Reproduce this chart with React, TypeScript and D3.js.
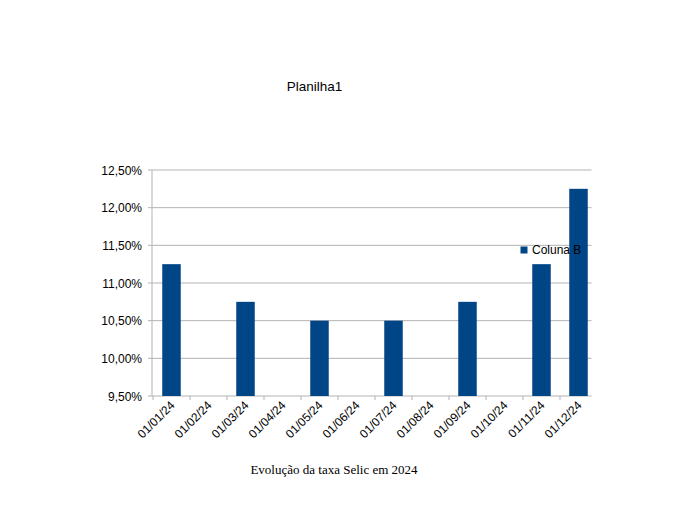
import React from "react";
import * as d3 from "d3";

const categories = ["01/01/24","01/02/24","01/03/24","01/04/24","01/05/24","01/06/24","01/07/24","01/08/24","01/09/24","01/10/24","01/11/24","01/12/24"];
const values: (number | null)[] = [11.25, null, 10.75, null, 10.5, null, 10.5, null, 10.75, null, 11.25, 12.25];
const yTicks = [9.5, 10, 10.5, 11, 11.5, 12, 12.5];
const seriesName = "Coluna B";
const title = "Planilha1";
const caption = "Evolução da taxa Selic em 2024";

export default function App() {
  const W = 694, H = 532;
  const left = 152, right = 591.5, top = 170, bottom = 396;
  const xb = d3.scaleBand<string>().domain(categories).range([153, 597]);
  const x = d3.scaleBand<string>().domain(categories).range([153, 597]).paddingInner(0.5).paddingOuter(0.25);
  const y = d3.scaleLinear().domain([9.5, 12.5]).range([bottom, top]);
  const fmt = (v: number) => v.toFixed(2).replace(".", ",") + "%";
  const sans = "'Liberation Sans', Arial, sans-serif";
  return (
    <svg width={W} height={H} style={{ position: "absolute", left: 0, top: 0, background: "#fff" }}>
      <rect width={W} height={H} fill="#fff" />
      <text x={314.5} y={91} textAnchor="middle" fontFamily={sans} fontSize={13.5} fill="#000">{title}</text>
      {yTicks.map((t) => (
        <g key={t}>
          <line x1={left} x2={right} y1={y(t)} y2={y(t)} stroke="#b3b3b3" strokeWidth={1} />
          <line x1={left - 4} x2={left} y1={y(t)} y2={y(t)} stroke="#b3b3b3" strokeWidth={1} />
          <text x={142} y={y(t) + 4.5} textAnchor="end" fontFamily={sans} fontSize={12} fill="#000">{fmt(t)}</text>
        </g>
      ))}
      <line x1={left} x2={left} y1={top} y2={bottom} stroke="#b3b3b3" />
      {categories.map((c) => (
        <line key={"t" + c} x1={xb(c)!} x2={xb(c)!} y1={bottom} y2={bottom + 4} stroke="#b3b3b3" />
      ))}
      {categories.map((c, i) => {
        const v = values[i];
        if (v == null) return null;
        return <rect key={"b" + c} x={x(c)!} y={y(v)} width={x.bandwidth()} height={bottom - y(v)} fill="#004586" />;
      })}
      {categories.map((c) => {
        const cx = xb(c)! + xb.bandwidth() / 2 + 1;
        const cy = bottom + 7;
        return (
          <text key={"l" + c} transform={`translate(${cx},${cy}) rotate(-45)`} textAnchor="end" dy="0.35em" fontFamily={sans} fontSize={12} fill="#000">{c}</text>
        );
      })}
      <rect x={520.5} y={246.5} width={7} height={7} fill="#004586" />
      <text x={532} y={254} fontFamily={sans} fontSize={12} fill="#000">{seriesName}</text>
      <text x={334} y={474} textAnchor="middle" fontFamily="'Liberation Serif', 'Times New Roman', serif" fontSize={13} fill="#000">{caption}</text>
    </svg>
  );
}
